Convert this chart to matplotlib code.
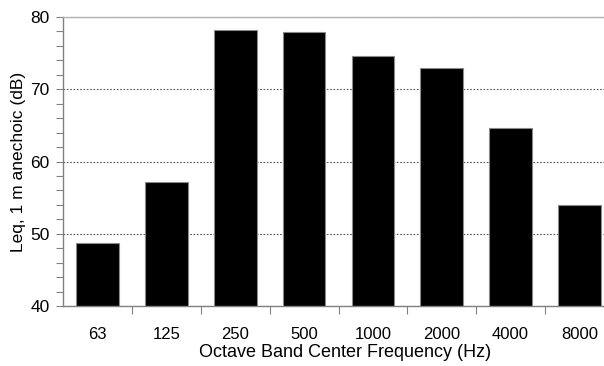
import matplotlib
matplotlib.use("Agg")
import matplotlib.pyplot as plt
from matplotlib.ticker import MultipleLocator, FixedLocator, NullFormatter

plt.rcParams['font.family'] = ['Liberation Sans', 'DejaVu Sans']

bands = ["63", "125", "250", "500", "1000", "2000", "4000", "8000"]
leq_db = [48.7, 57.2, 78.2, 77.9, 74.6, 72.9, 64.7, 54.0]

fig = plt.figure(figsize=(6.04, 3.66), dpi=100)
ax = fig.add_axes([0.1048, 0.1639, 0.9113, 0.7896])

x = list(range(len(bands)))
ax.bar(x, leq_db, width=0.62, color="black", edgecolor="#8a8a8a",
       linewidth=0.8, zorder=2)

ax.set_xlim(-0.5, len(bands) - 0.5)
ax.set_ylim(40, 80)

# y axis: labelled every 10 dB, small ticks every 2 dB
ax.yaxis.set_major_locator(MultipleLocator(10))
ax.yaxis.set_minor_locator(MultipleLocator(2))
ax.tick_params(axis="y", which="both", direction="out", length=5,
               width=0.8, color="#808080", labelsize=12.5, pad=5)

# x axis: tick marks between bands, labels under bar centres
ax.xaxis.set_major_locator(FixedLocator([i + 0.5 for i in x[:-1]]))
ax.xaxis.set_major_formatter(NullFormatter())
ax.xaxis.set_minor_locator(FixedLocator(x))
ax.set_xticklabels(bands, minor=True)
ax.tick_params(axis="x", which="major", direction="out", length=6,
               width=0.8, color="#808080")
ax.tick_params(axis="x", which="minor", length=0, labelsize=12, pad=15)

ax.set_axisbelow(True)
ax.yaxis.grid(True, which="major", linestyle=(0, (1.5, 1.5)),
              linewidth=0.8, color="#555555")

for side in ("left", "bottom"):
    ax.spines[side].set_color("#808080")
    ax.spines[side].set_linewidth(1.0)
ax.spines["top"].set_color("#b4b4b4")
ax.spines["top"].set_linewidth(1.0)
ax.spines["right"].set_visible(False)

ax.set_xlabel("Octave Band Center Frequency (Hz)", fontsize=13)
ax.xaxis.set_label_coords(0.512, -0.132)
ax.set_ylabel("Leq, 1 m anechoic (dB)", fontsize=12.5, labelpad=3)

fig.savefig("out.png", dpi=100)
